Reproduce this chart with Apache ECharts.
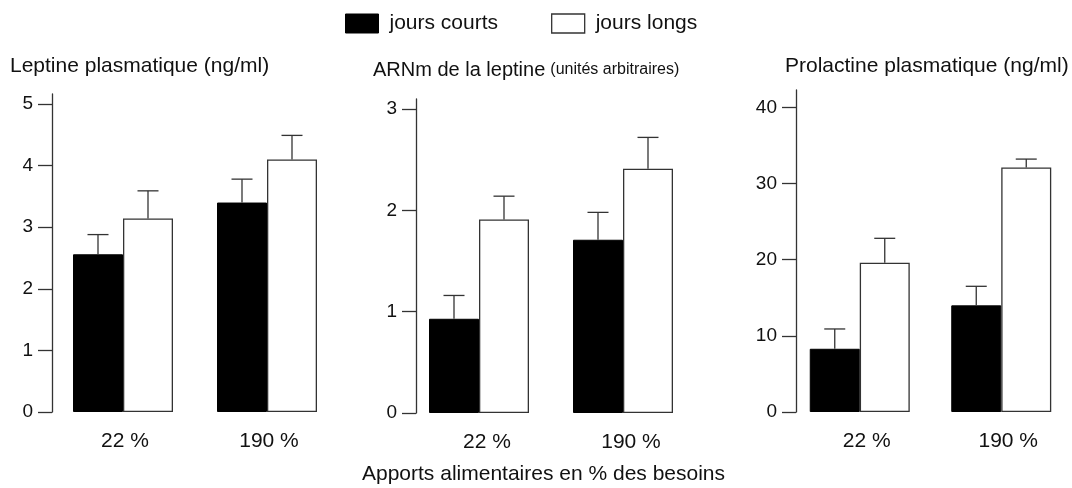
<!DOCTYPE html>
<html>
<head>
<meta charset="utf-8">
<script src="https://cdn.jsdelivr.net/npm/echarts@6/dist/echarts.min.js"></script>
<style>
  html, body { margin: 0; padding: 0; background: #fff; }
  #chart { width: 1072px; height: 488px; }
</style>
</head>
<body>
<div id="chart"></div>
<script>
var categories = ['22 %', '190 %'];

// leptine plasmatique (ng/ml)
var leptineCourts = [2.56, 3.40];
var leptineCourtsErr = [2.88, 3.78];
var leptineLongs = [3.14, 4.10];
var leptineLongsErr = [3.59, 4.49];
var leptineTicks = [0, 1, 2, 3, 4, 5];

// ARNm de la leptine (unites arbitraires)
var arnCourts = [0.93, 1.71];
var arnCourtsErr = [1.16, 1.98];
var arnLongs = [1.91, 2.41];
var arnLongsErr = [2.14, 2.72];
var arnTicks = [0, 1, 2, 3];

// prolactine plasmatique (ng/ml)
var prlCourts = [8.3, 14.0];
var prlCourtsErr = [10.9, 16.5];
var prlLongs = [19.6, 32.1];
var prlLongsErr = [22.8, 33.2];
var prlTicks = [0, 10, 20, 30, 40];

var font = '"Liberation Sans", Arial, Helvetica, sans-serif';
var ink = '#333';

function errorRender(shift) {
	return function(params, api) {
		var base = api.coord([api.value(0), api.value(1)]);
		var top = api.coord([api.value(0), api.value(2)]);
		var x = base[0] + shift;
		var st = { stroke: ink, lineWidth: 1.3, fill: null };
		return {
			type: 'group',
			children: [
				{ type: 'line', shape: { x1: x, y1: base[1], x2: x, y2: top[1] }, style: st },
				{ type: 'line', shape: { x1: x - 10.5, y1: top[1], x2: x + 10.5, y2: top[1] }, style: st }
			]
		};
	};
}

function errData(vals, errs) {
	return vals.map(function(v, i) { return [i, v, errs[i]]; });
}

var panels = [
	{ left: 51, width: 288, top: 94, bottom: 76, max: 5.162, offset: -1, ticks: leptineTicks, pad: 4,
	  courts: leptineCourts, courtsErr: leptineCourtsErr, longs: leptineLongs, longsErr: leptineLongsErr },
	{ left: 407, width: 288, top: 99, bottom: 75, max: 3.099, offset: -9, ticks: arnTicks, pad: 16,
	  courts: arnCourts, courtsErr: arnCourtsErr, longs: arnLongs, longsErr: arnLongsErr },
	{ left: 789, width: 286, top: 90, bottom: 76, max: 42.27, offset: -7, ticks: prlTicks, pad: 14,
	  courts: prlCourts, courtsErr: prlCourtsErr, longs: prlLongs, longsErr: prlLongsErr }
];

var grids = [], xAxes = [], yAxes = [], series = [];
panels.forEach(function(p, i) {
	grids.push({ left: p.left, width: p.width, top: p.top, bottom: p.bottom });
	xAxes.push({
		type: 'category', gridIndex: i, data: categories,
		axisLine: { show: false }, axisTick: { show: false },
		axisLabel: { fontSize: 21, fontFamily: font, color: '#111', margin: 19, padding: [0, 0, 0, p.pad] }
	});
	yAxes.push({
		type: 'value', gridIndex: i, min: 0, max: p.max, offset: p.offset,
		splitLine: { show: false },
		axisLine: { show: true, lineStyle: { color: ink, width: 1.3 } },
		axisTick: { show: true, inside: false, length: 14, customValues: p.ticks, lineStyle: { color: ink, width: 1.3 } },
		axisLabel: { fontSize: 19, fontFamily: font, color: '#111', margin: 19, customValues: p.ticks }
	});
	series.push({
		name: 'jours courts', type: 'bar', xAxisIndex: i, yAxisIndex: i,
		data: p.courts, barWidth: 50, barGap: '0%',
		itemStyle: { color: '#000', borderColor: '#000', borderWidth: 1 }
	});
	series.push({
		name: 'jours longs', type: 'bar', xAxisIndex: i, yAxisIndex: i,
		data: p.longs, barWidth: 50, barGap: '0%',
		itemStyle: { color: '#fff', borderColor: ink, borderWidth: 1.3 }
	});
	series.push({
		type: 'custom', xAxisIndex: i, yAxisIndex: i, z: 3,
		renderItem: errorRender(-25), data: errData(p.courts, p.courtsErr),
		encode: { x: 0, y: [1, 2] }
	});
	series.push({
		type: 'custom', xAxisIndex: i, yAxisIndex: i, z: 3,
		renderItem: errorRender(25), data: errData(p.longs, p.longsErr),
		encode: { x: 0, y: [1, 2] }
	});
});

var chart = echarts.init(document.getElementById('chart'), null, { renderer: 'canvas' });
chart.setOption({
	animation: false,
	backgroundColor: '#fff',
	textStyle: { fontFamily: font },
	title: [
		{ text: 'Leptine plasmatique (ng/ml)', left: 5, top: 51,
		  textStyle: { fontSize: 21, fontWeight: 'normal', color: '#111', fontFamily: font } },
		{ text: '{a|ARNm de la leptine} {b|(unités arbitraires)}', left: 368, top: 55,
		  textStyle: { fontWeight: 'normal', rich: {
			a: { fontSize: 20, fontWeight: 'normal', color: '#111', fontFamily: font },
			b: { fontSize: 16, fontWeight: 'normal', color: '#111', fontFamily: font }
		  } } },
		{ text: 'Prolactine plasmatique (ng/ml)', left: 780, top: 51,
		  textStyle: { fontSize: 21, fontWeight: 'normal', color: '#111', fontFamily: font } },
		{ text: 'Apports alimentaires en % des besoins', left: 357, top: 459,
		  textStyle: { fontSize: 21, fontWeight: 'normal', color: '#111', fontFamily: font } }
	],
	legend: {
		left: 340, top: 8, itemWidth: 33, itemHeight: 19, itemGap: 53,
		icon: 'rect',
		textStyle: { fontSize: 21, color: '#111', fontFamily: font, padding: [0, 0, 0, 6] },
		data: [
			{ name: 'jours courts', itemStyle: { color: '#000', borderColor: '#000', borderWidth: 1 } },
			{ name: 'jours longs', itemStyle: { color: '#fff', borderColor: ink, borderWidth: 1.3 } }
		]
	},
	grid: grids,
	xAxis: xAxes,
	yAxis: yAxes,
	series: series
});
</script>
</body>
</html>
